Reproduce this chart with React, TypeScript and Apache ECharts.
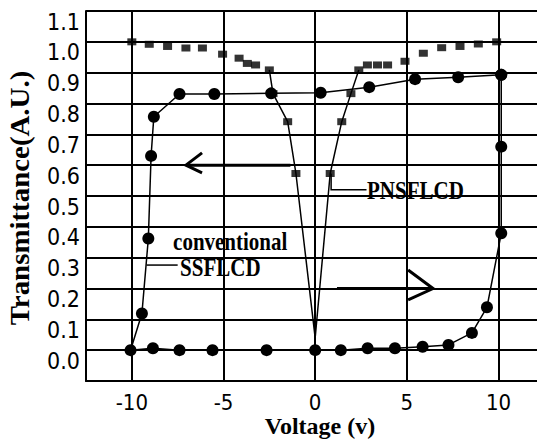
import React, { useEffect, useRef } from "react";
import * as echarts from "echarts";

// X axis ticks (Voltage)
const xTicks = [-10, -5, 0, 5, 10];

// Conventional SSFLCD – hysteresis loop (in drawing order)
const ssVoltage = [10.15, 7.8, 5.45, 2.95, 0.3, -2.4, -5.5, -7.4, -8.8, -8.95, -9.1, -9.45, -10.07, -8.85, -7.4, -5.6, -2.65, 0, 1.4, 2.86, 4.35, 5.86, 7.27, 8.55, 9.37, 10.15, 10.15, 10.15];
const ssTrans = [0.893, 0.885, 0.879, 0.853, 0.835, 0.833, 0.831, 0.831, 0.757, 0.63, 0.362, 0.119, 0, 0.006, 0, 0, 0, 0, 0, 0.006, 0.006, 0.011, 0.017, 0.056, 0.139, 0.379, 0.66, 0.893];

// PNSFLCD
const pnVoltage = [-10.0, -9.05, -8.05, -7.05, -6.15, -5.05, -4.15, -3.7, -3.25, -2.5, -2.3, -1.5, -1.05, 0, 0.82, 1.45, 1.95, 2.38, 2.85, 3.4, 3.95, 4.9, 5.9, 6.9, 7.9, 8.9, 9.9];
const pnTrans = [1.0, 0.992, 0.985, 0.98, 0.98, 0.96, 0.947, 0.93, 0.925, 0.909, 0.832, 0.741, 0.573, 0.04, 0.573, 0.741, 0.832, 0.909, 0.925, 0.925, 0.925, 0.937, 0.963, 0.981, 0.985, 0.993, 1.0];
const pnLineFrom = 9; // first index of the connected V segment
const pnLineTo = 17; // last index of the connected V segment
const pnVertex = 13; // V bottom (no marker)

// Annotations, in data coordinates
const leftArrowTail = [-1.35, 0.6];
const leftArrowTip = [-7.05, 0.6];
const leftArrowHead = [[-6.17, 0.64], [-6.17, 0.575]];
const rightArrowTail = [1.19, 0.2];
const rightArrowTip = [6.43, 0.2];
const rightArrowHead = [[5.07, 0.26], [5.07, 0.163]];
const pnLeader = [[0.87, 0.573], [0.87, 0.52], [2.8, 0.52]];
const pnLabelPos = [2.83, 0.52];
const ssLeader = [[-9.2, 0.276], [-7.5, 0.276]];
const ssLabelPos = [-7.37, 0.27];
const convLabelPos = [-7.75, 0.351];

export default function App() {
  const ref = useRef<HTMLDivElement>(null);
  useEffect(() => {
    const chart = echarts.init(ref.current!, null, { renderer: "svg" });
    const tickFont = "'Liberation Sans Narrow', 'DejaVu Sans Condensed', 'Liberation Sans', sans-serif";
    const serif = "'Liberation Serif', 'DejaVu Serif', serif";
    chart.setOption({
      animation: false,
      backgroundColor: "#fff",
      grid: { left: 86, right: 0, top: 11, bottom: 63, containLabel: false, outerBoundsMode: "none" },
      xAxis: {
        type: "value",
        min: -12.5,
        max: 12.1,
        axisLine: { show: true, onZero: false, lineStyle: { color: "#000", width: 2 } },
        axisTick: { show: false, customValues: xTicks },
        axisLabel: { customValues: xTicks, fontFamily: tickFont, fontSize: 22, color: "#000", margin: 10 },
        splitLine: { show: true, lineStyle: { color: "#000", width: 2 } },
      },
      yAxis: {
        type: "value",
        min: -0.1,
        max: 1.1,
        interval: 0.1,
        axisLine: { show: true, onZero: false, lineStyle: { color: "#000", width: 2 } },
        axisTick: { show: false },
        axisLabel: {
          fontFamily: tickFont,
          fontSize: 23,
          color: "#000",
          margin: 6,
          verticalAlign: "top",
          lineHeight: 21,
          formatter: (v: number) => (v < -0.01 ? "" : v.toFixed(1)),
        },
        splitLine: { show: true, lineStyle: { color: "#000", width: 2 } },
      },
      series: [
        {
          name: "PNSFLCD line",
          type: "line",
          data: pnVoltage.slice(pnLineFrom, pnLineTo + 1).map((v, i) => [v, pnTrans[pnLineFrom + i]]),
          symbol: "none",
          lineStyle: { color: "#000", width: 1.5 },
          z: 3,
        },
        {
          name: "PNSFLCD",
          type: "scatter",
          symbol: "rect",
          symbolSize: [9, 7],
          data: pnVoltage
            .map((v, i) => [v, pnTrans[i]])
            .filter((_, i) => i !== pnVertex),
          itemStyle: { color: "#000" },
          z: 4,
        },
        {
          name: "conventional SSFLCD",
          type: "line",
          data: ssVoltage.map((v, i) => [v, ssTrans[i]]),
          symbol: "circle",
          symbolSize: 12,
          showAllSymbol: true,
          itemStyle: { color: "#000" },
          lineStyle: { color: "#000", width: 1.5 },
          z: 5,
        },
      ],
    });

    const px = (p: number[]) => chart.convertToPixel({ gridIndex: 0 }, p) as number[];
    const stroke = (w: number) => ({ stroke: "#000", lineWidth: w, fill: null });
    const seg = (a: number[], b: number[], w: number) => {
      const p = px(a);
      const q = px(b);
      return { type: "line", shape: { x1: p[0], y1: p[1], x2: q[0], y2: q[1] }, style: stroke(w), z: 10 };
    };
    const poly = (pts: number[][], w: number) => ({
      type: "polyline",
      shape: { points: pts.map(px) },
      style: stroke(w),
      z: 10,
    });
    const label = (text: string, pos: number[], size: number, sy: number) => {
      const p = px(pos);
      return {
        type: "text",
        x: p[0],
        y: p[1],
        scaleY: sy,
        style: { text, fontFamily: serif, fontWeight: "bold", fontSize: size, fill: "#000", align: "left", verticalAlign: "middle" },
        z: 11,
      };
    };

    chart.setOption({
      graphic: [
        seg(leftArrowTail, leftArrowTip, 3),
        poly([leftArrowHead[0], leftArrowTip, leftArrowHead[1]], 3),
        seg(rightArrowTail, rightArrowTip, 3),
        poly([rightArrowHead[0], rightArrowTip, rightArrowHead[1]], 3),
        poly(pnLeader, 1.5),
        poly(ssLeader, 1.5),
        label("PNSFLCD", pnLabelPos, 21, 1.2),
        label("conventional", convLabelPos, 21, 1.15),
        label("SSFLCD", ssLabelPos, 21, 1.2),
        {
          type: "text",
          x: 20,
          y: 198,
          rotation: Math.PI / 2,
          scaleX: 1.07,
          style: { text: "Transmittance(A.U.)", fontFamily: serif, fontWeight: "bold", fontSize: 27, fill: "#000", align: "center", verticalAlign: "middle" },
        },
        {
          type: "text",
          x: 320,
          y: 426,
          style: { text: "Voltage (v)", fontFamily: serif, fontWeight: "bold", fontSize: 24, fill: "#000", align: "center", verticalAlign: "middle" },
        },
      ],
    });

    return () => chart.dispose();
  }, []);

  return <div ref={ref} style={{ position: "fixed", left: 0, top: 0, width: 537, height: 444, background: "#fff" }} />;
}
